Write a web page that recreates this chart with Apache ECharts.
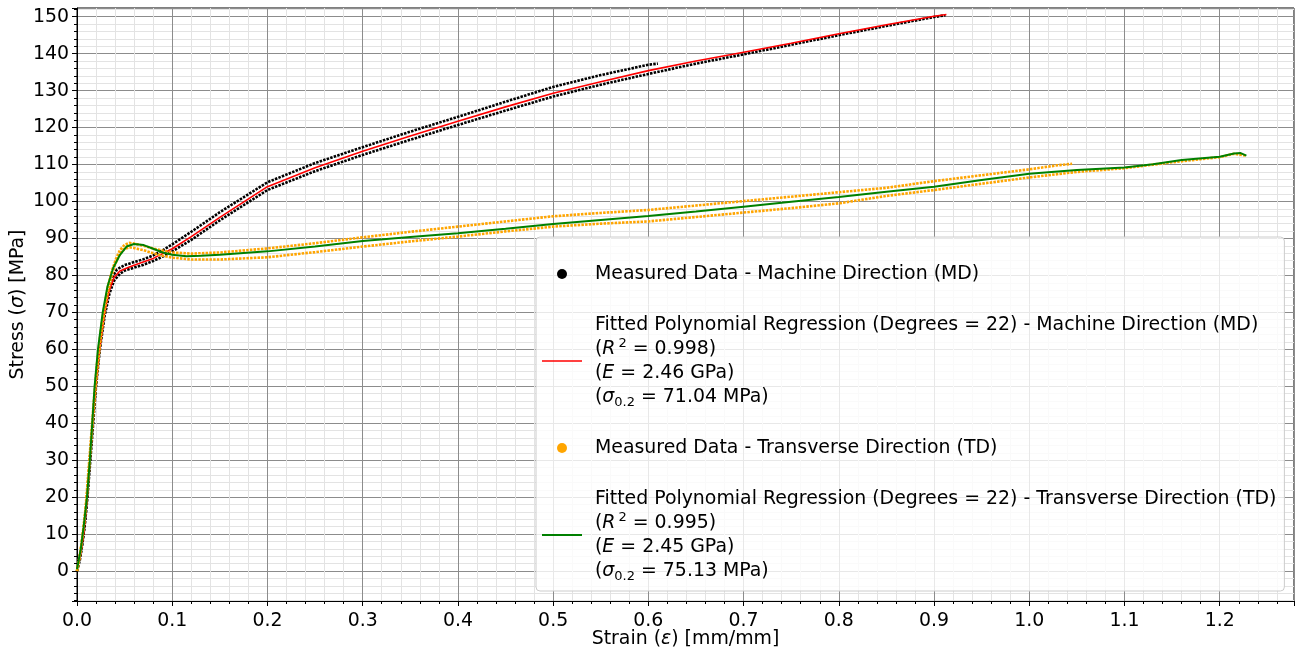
<!DOCTYPE html>
<html>
<head>
<meta charset="utf-8">
<title>Stress-strain curves</title>
<script src="https://cdn.jsdelivr.net/npm/echarts@6.0.0/dist/echarts.min.js"></script>
<style>
html, body { margin: 0; padding: 0; background: #fff; }
#chart { width: 1296px; height: 653px; }
</style>
</head>
<body>
<div id="chart"></div>
<script>
// strain [mm/mm] and stress [MPa]

// machine direction, specimen 1 (upper band, breaks early)
const mdSpec1Strain = [0, 0.003, 0.006, 0.009, 0.012, 0.015, 0.018, 0.021, 0.025, 0.029, 0.033, 0.037, 0.042, 0.05, 0.06, 0.07, 0.08, 0.09, 0.1, 0.12, 0.15, 0.2, 0.25, 0.3, 0.35, 0.4, 0.45, 0.5, 0.55, 0.6, 0.61]
const mdSpec1Stress = [0, 3, 8, 15, 25, 35, 45, 54, 63, 71, 76.5, 79.5, 81.6, 82.8, 83.6, 84.4, 85.4, 86.8, 88.4, 91.8, 97.1, 105.2, 110.4, 114.7, 118.9, 122.9, 127, 131, 134.2, 137, 137.3]

// machine direction, specimen 2 (lower band)
const mdSpec2Strain = [0, 0.004, 0.008, 0.011, 0.014, 0.017, 0.02, 0.024, 0.029, 0.034, 0.039, 0.045, 0.05, 0.06, 0.07, 0.08, 0.09, 0.1, 0.12, 0.15, 0.2, 0.25, 0.3, 0.35, 0.4, 0.45, 0.5, 0.55, 0.6, 0.65, 0.7, 0.75, 0.8, 0.85, 0.9, 0.912]
const mdSpec2Stress = [0, 5, 12, 20, 30, 40, 50, 60, 69, 75, 78.6, 80.4, 81.3, 82.1, 82.9, 83.9, 85.1, 86.5, 89.6, 94.9, 103.1, 108.2, 112.6, 116.7, 120.7, 124.6, 128.4, 131.6, 134.5, 137.3, 139.8, 142.4, 145, 147.5, 149.9, 150.4]

// machine direction, polynomial fit
const mdFitStrain = [0, 0.004, 0.007, 0.0108, 0.0135, 0.0163, 0.0196, 0.0237, 0.029, 0.034, 0.039, 0.045, 0.055, 0.065, 0.08, 0.1, 0.12, 0.15, 0.2, 0.25, 0.3, 0.35, 0.4, 0.45, 0.5, 0.55, 0.6, 0.65, 0.7, 0.75, 0.8, 0.85, 0.9, 0.913]
const mdFitStress = [0.5, 5, 10, 20, 30, 40, 50, 60, 70, 76, 79.5, 81.2, 82.3, 83.2, 84.6, 87.2, 90.5, 95.7, 104, 109.1, 113.6, 117.7, 121.7, 125.6, 129.3, 132.4, 135.4, 138, 140.4, 142.8, 145.4, 147.8, 150.1, 150.6]

// transverse direction, specimen A (upper band)
const tdSpecAStrain = [0, 0.003, 0.006, 0.009, 0.012, 0.015, 0.018, 0.021, 0.025, 0.029, 0.033, 0.037, 0.041, 0.045, 0.05, 0.055, 0.06, 0.07, 0.08, 0.09, 0.1, 0.12, 0.15, 0.2, 0.25, 0.3, 0.35, 0.4, 0.45, 0.5, 0.55, 0.6, 0.65, 0.7, 0.75, 0.8, 0.85, 0.9, 0.95, 1.0, 1.03, 1.045]
const tdSpecAStress = [0, 4, 10, 17, 27, 37, 47, 56, 65, 72, 77.5, 81.5, 84.5, 86.8, 88.3, 88.8, 88.6, 88, 87.3, 86.7, 86.2, 85.9, 86.2, 87.3, 88.7, 90.3, 91.8, 93.2, 94.6, 96, 96.9, 97.7, 98.9, 100.1, 101.3, 102.5, 103.7, 105.5, 107.1, 108.7, 109.8, 110.2]

// transverse direction, specimen B (lower band)
const tdSpecBStrain = [0, 0.004, 0.008, 0.011, 0.014, 0.017, 0.02, 0.024, 0.028, 0.032, 0.036, 0.04, 0.045, 0.05, 0.055, 0.06, 0.07, 0.08, 0.09, 0.1, 0.12, 0.15, 0.2, 0.25, 0.3, 0.35, 0.4, 0.45, 0.5, 0.55, 0.6, 0.65, 0.7, 0.75, 0.8, 0.85, 0.9, 0.95, 1.0, 1.05, 1.1, 1.15, 1.2, 1.215, 1.228]
const tdSpecBStress = [0, 6, 14, 22, 32, 42, 51, 61, 69, 75, 79.5, 83, 85.8, 87.2, 87.6, 87.4, 86.8, 86, 85.3, 84.8, 84.3, 84.3, 84.9, 86.3, 87.8, 89.2, 90.5, 91.9, 93.2, 94, 94.6, 95.8, 97, 98.2, 99.5, 101.5, 103.1, 104.8, 106.5, 108, 109, 110.6, 112, 112.9, 112.4]

// transverse direction, polynomial fit
const tdFitStrain = [0, 0.004, 0.007, 0.0105, 0.0135, 0.016, 0.0185, 0.022, 0.027, 0.032, 0.038, 0.045, 0.052, 0.06, 0.07, 0.08, 0.09, 0.1, 0.115, 0.13, 0.15, 0.2, 0.25, 0.3, 0.35, 0.4, 0.45, 0.5, 0.55, 0.6, 0.65, 0.7, 0.75, 0.8, 0.85, 0.9, 0.95, 1.0, 1.05, 1.1, 1.13, 1.16, 1.2, 1.215, 1.222, 1.228]
const tdFitStress = [0.5, 6, 12, 20, 30, 40, 50, 60, 70, 77, 82, 85.5, 87.8, 88.5, 88.2, 87.2, 86.2, 85.6, 85.2, 85.3, 85.6, 86.5, 87.8, 89.3, 90.4, 91.4, 92.6, 93.9, 95, 96.1, 97.3, 98.6, 99.9, 101.2, 102.6, 104, 105.8, 107.5, 108.5, 109.2, 110.1, 111.2, 112.1, 113, 113.1, 112.4]

const nameMdData = "Measured Data - Machine Direction (MD)"
const nameMdFit = "Fitted Polynomial Regression (Degrees = 22) - Machine Direction (MD)"
const nameTdData = "Measured Data - Transverse Direction (TD)"
const nameTdFit = "Fitted Polynomial Regression (Degrees = 22) - Transverse Direction (TD)"

const fitStats = {}
fitStats[nameMdFit] = { r2: "0.998", e: "2.46", sy: "71.04" }
fitStats[nameTdFit] = { r2: "0.995", e: "2.45", sy: "75.13" }

const FONT = "DejaVu Sans"
const FS = 18.9

function pairs(xs, ys) {
  return xs.map((x, i) => [x, ys[i]])
}

function measured(name, xs, ys, color) {
  return {
    name: name,
    type: "line",
    data: pairs(xs, ys),
    showSymbol: false,
    symbol: "none",
    itemStyle: { color: color },
    lineStyle: { color: color, width: 2.6, type: [2.5, 1.2] },
    silent: true,
  }
}

function fitted(name, xs, ys, color, width) {
  return {
    name: name,
    type: "line",
    data: pairs(xs, ys),
    showSymbol: false,
    symbol: "none",
    itemStyle: { color: color },
    lineStyle: { color: color, width: width },
    silent: true,
  }
}

const chart = echarts.init(document.getElementById("chart"))

const option = {
  animation: false,
  backgroundColor: "#fff",
  textStyle: { fontFamily: FONT },
  grid: {
    left: 77,
    right: 2,
    top: 8,
    bottom: 52,
    show: true,
    borderColor: "#000",
    borderWidth: 1,
    containLabel: false,
    outerBoundsMode: "none",
  },
  legend: {
    orient: "vertical",
    left: 536,
    top: 237,
    padding: [25, 8, 8, 6],
    itemGap: 27,
    itemWidth: 40,
    itemHeight: 10,
    selectedMode: false,
    backgroundColor: "rgba(255,255,255,0.8)",
    borderColor: "#cccccc",
    borderWidth: 1,
    borderRadius: 4,
    data: [
      { name: nameMdData, icon: "circle" },
      { name: nameMdFit, icon: "path://M0,0H40V1.6H0Z" },
      { name: nameTdData, icon: "circle" },
      { name: nameTdFit, icon: "path://M0,0H40V2H0Z" },
    ],
    formatter: function (name) {
      const s = fitStats[name]
      if (!s) return name
      return name +
        "\n({i|R}{sup|2} = " + s.r2 + ")" +
        "\n({i|E} = " + s.e + " GPa)" +
        "\n({i|σ}{sub|0.2} = " + s.sy + " MPa)"
    },
    textStyle: {
      fontFamily: FONT,
      fontSize: FS,
      lineHeight: 24,
      color: "#000",
      padding: [0, 0, 0, 8],
      rich: {
        i: { fontFamily: FONT, fontSize: FS, fontStyle: "italic", lineHeight: 24, color: "#000" },
        sup: { fontFamily: FONT, fontSize: 13, lineHeight: 14, verticalAlign: "top", color: "#000", padding: [0, 0, 0, 3] },
        sub: { fontFamily: FONT, fontSize: 13, lineHeight: 16, verticalAlign: "bottom", color: "#000" },
      },
    },
  },
  xAxis: {
    type: "value",
    min: 0,
    max: 1.278,
    interval: 0.1,
    name: "Strain ({i|ε}) [mm/mm]",
    nameLocation: "middle",
    nameGap: 29,
    nameMoveOverlap: false,
    nameTextStyle: {
      fontFamily: FONT,
      fontSize: FS,
      color: "#000",
      rich: { i: { fontFamily: FONT, fontSize: FS, fontStyle: "italic", color: "#000" } },
    },
    axisLine: { onZero: false, lineStyle: { color: "#000", width: 1 } },
    axisTick: { show: true, length: 5, lineStyle: { color: "#000" } },
    minorTick: { show: true, splitNumber: 5, length: 3, lineStyle: { color: "#000" } },
    axisLabel: {
      margin: 11,
      fontFamily: FONT,
      fontSize: FS,
      color: "#000",
      showMaxLabel: false,
      formatter: (v) => v.toFixed(1),
    },
    splitLine: { show: true, lineStyle: { color: "#8c8c8c", width: 1 } },
    minorSplitLine: { show: true, lineStyle: { color: "#e3e3e3", width: 1 } },
  },
  yAxis: {
    type: "value",
    min: -8.1,
    max: 152.35,
    splitNumber: 16,
    name: "Stress ({i|σ}) [MPa]",
    nameLocation: "middle",
    nameGap: 49,
    nameMoveOverlap: false,
    nameTextStyle: {
      fontFamily: FONT,
      fontSize: FS,
      color: "#000",
      rich: { i: { fontFamily: FONT, fontSize: FS, fontStyle: "italic", color: "#000" } },
    },
    axisLine: { show: true, onZero: false, lineStyle: { color: "#000", width: 1 } },
    axisTick: { show: true, length: 5, lineStyle: { color: "#000" } },
    minorTick: { show: true, splitNumber: 5, length: 3, lineStyle: { color: "#000" } },
    axisLabel: {
      margin: 8,
      fontFamily: FONT,
      fontSize: FS,
      color: "#000",
      showMinLabel: false,
      showMaxLabel: false,
      formatter: (v) => String(Math.round(v)),
    },
    splitLine: { show: true, lineStyle: { color: "#8c8c8c", width: 1 } },
    minorSplitLine: { show: true, lineStyle: { color: "#e3e3e3", width: 1 } },
  },
  series: [
    measured(nameMdData, mdSpec1Strain, mdSpec1Stress, "#000000"),
    measured(nameMdData, mdSpec2Strain, mdSpec2Stress, "#000000"),
    fitted(nameMdFit, mdFitStrain, mdFitStress, "#ff0000", 1.6),
    measured(nameTdData, tdSpecAStrain, tdSpecAStress, "#ffa500"),
    measured(nameTdData, tdSpecBStrain, tdSpecBStress, "#ffa500"),
    fitted(nameTdFit, tdFitStrain, tdFitStress, "#008000", 2),
  ],
}

chart.setOption(option)
</script>
</body>
</html>
